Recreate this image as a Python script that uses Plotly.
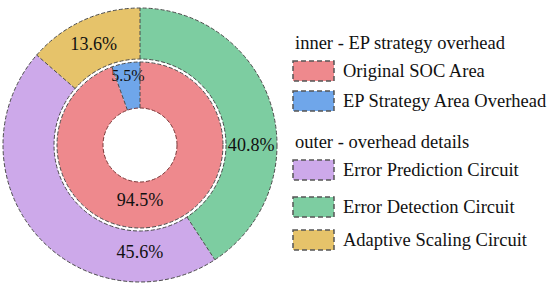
import math
import plotly.graph_objects as go

# ---------------- data ----------------
inner_labels = ["Original SOC Area", "EP Strategy Area Overhead"]
inner_values = [94.5, 5.5]
inner_colors = ["#EE898D", "#6FA6EA"]

outer_labels = ["Error Prediction Circuit", "Error Detection Circuit", "Adaptive Scaling Circuit"]
outer_values = [45.6, 40.8, 13.6]
outer_colors = ["#CDA9EA", "#7DCDA1", "#E6C36A"]

inner_title = "inner - EP strategy overhead"
outer_title = "outer - overhead details"

# ---------------- layout constants ----------------
W, H = 550, 291
CX, CY = 140, 145           # pie centre (pixels from top-left)
R_OUT, R_OUT_HOLE = 137, 86
R_IN, R_IN_HOLE = 83, 37
FONT = "Liberation Serif"
EDGE = "#4a4a4a"
DASH = "4px,2px"


def domain(r):
    return dict(x=[(CX - r) / W, (CX + r) / W],
                y=[(H - CY - r) / H, (H - CY + r) / H])


outer_rot = 360 * outer_values[1] / sum(outer_values)

fig = go.Figure()
fig.add_trace(go.Pie(
    labels=outer_labels, values=outer_values, sort=False,
    direction="counterclockwise", rotation=outer_rot,
    hole=R_OUT_HOLE / R_OUT, domain=domain(R_OUT),
    marker=dict(colors=outer_colors, line=dict(width=0)),
    texttemplate="%{value}%", textposition="inside",
    insidetextorientation="horizontal",
    textfont=dict(family=FONT, size=19, color="#111"),
    showlegend=False,
))
fig.add_trace(go.Pie(
    labels=inner_labels, values=inner_values, sort=False,
    direction="clockwise", rotation=0,
    hole=R_IN_HOLE / R_IN, domain=domain(R_IN),
    marker=dict(colors=inner_colors, line=dict(width=0)),
    texttemplate="%{value}%", textposition="inside",
    insidetextorientation="horizontal",
    textfont=dict(family=FONT, size=[18.5, 16], color="#111"),
    showlegend=False,
))

shapes = []
ax, ay = CX / W, (H - CY) / H


def circ(r, color=EDGE):
    shapes.append(dict(type="circle", xref="paper", yref="paper",
                       xsizemode="pixel", ysizemode="pixel",
                       xanchor=ax, yanchor=ay, x0=-r, x1=r, y0=-r, y1=r,
                       line=dict(color=color, width=1, dash=DASH)))


def radial(angle_deg, r0, r1):
    a = math.radians(angle_deg)
    s, c = math.sin(a), math.cos(a)
    shapes.append(dict(type="line", xref="paper", yref="paper",
                       xsizemode="pixel", ysizemode="pixel",
                       xanchor=ax, yanchor=ay,
                       x0=r0 * s, y0=r0 * c, x1=r1 * s, y1=r1 * c,
                       line=dict(color=EDGE, width=1, dash=DASH)))


def boundaries(values, rot, direction):
    tot = sum(values)
    angs = []
    if direction == "clockwise":
        cur = rot
        for v in values:
            angs.append(cur)
            cur += 360 * v / tot
    else:
        cur = rot + 360 * values[0] / tot
        for v in values:
            angs.append(cur)
            cur -= 360 * v / tot
    return angs


for a in boundaries(outer_values, outer_rot, "counterclockwise"):
    radial(a, R_OUT_HOLE, R_OUT)
for a in boundaries(inner_values, 0, "clockwise"):
    radial(a, R_IN_HOLE, R_IN)

circ(R_OUT)
circ(R_OUT_HOLE)
circ(R_IN)
circ(R_IN_HOLE, "#7a3a3a")

# ---------------- custom legend ----------------
annotations = []
LX = 293
SW, SH = 41, 20
TX = 341
LFS = 18.5


def title(text, y):
    annotations.append(dict(text=text, x=LX / W, y=1 - y / H, xref="paper", yref="paper",
                            xanchor="left", yanchor="middle", showarrow=False,
                            font=dict(family=FONT, size=LFS, color="#111")))


def item(text, color, y):
    shapes.append(dict(type="rect", xref="paper", yref="paper",
                       x0=LX / W, x1=(LX + SW) / W,
                       y0=1 - (y - SH / 2) / H, y1=1 - (y + SH / 2) / H,
                       fillcolor=color,
                       line=dict(color="#555", width=1.5, dash="5px,3px")))
    annotations.append(dict(text=text, x=TX / W, y=1 - y / H, xref="paper", yref="paper",
                            xanchor="left", yanchor="middle", showarrow=False,
                            font=dict(family=FONT, size=LFS, color="#111")))


title(inner_title, 43)
for lab, col, y in zip(inner_labels, inner_colors, [71, 101]):
    item(lab, col, y)
title(outer_title, 142)
for lab, col, y in zip(outer_labels, outer_colors, [170, 207, 240]):
    item(lab, col, y)

fig.update_layout(
    width=W, height=H, margin=dict(l=0, r=0, t=0, b=0),
    paper_bgcolor="white", plot_bgcolor="white",
    font=dict(family=FONT),
    shapes=shapes, annotations=annotations,
    uniformtext=dict(minsize=16, mode="show"),
)

fig.write_html("out.html", config={"displayModeBar": False},
               post_script="document.body.style.margin='0';document.body.style.overflow='hidden';")
